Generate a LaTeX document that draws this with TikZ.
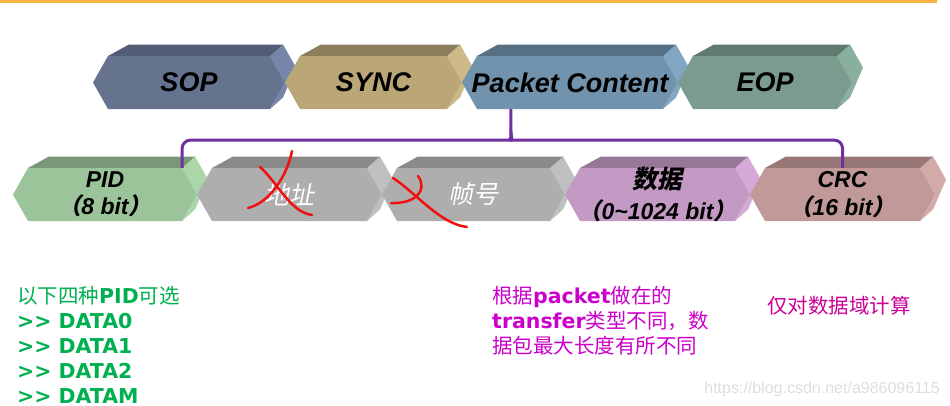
\documentclass[tikz,border=0pt]{standalone}
\usepackage{fontspec}
\setmainfont{Liberation Sans}
\newfontfamily\cjk{Noto Sans CJK SC}
\newfontfamily\cjkit[FakeSlant=0.2]{Noto Sans CJK SC}
\newfontfamily\dvs{DejaVu Sans}
\usetikzlibrary{calc}

\definecolor{sopF}{HTML}{65738F}\definecolor{sopT}{HTML}{525C76}\definecolor{sopS}{HTML}{7686AA}
\definecolor{synF}{HTML}{BAA677}\definecolor{synT}{HTML}{8C7E5C}\definecolor{synS}{HTML}{CDB987}
\definecolor{pcF}{HTML}{7193AD}\definecolor{pcT}{HTML}{567185}\definecolor{pcS}{HTML}{80A6C4}
\definecolor{eopF}{HTML}{7A9B8D}\definecolor{eopT}{HTML}{5F7A6E}\definecolor{eopS}{HTML}{89AF9E}
\definecolor{pidF}{HTML}{9BC49A}\definecolor{pidT}{HTML}{789878}\definecolor{pidS}{HTML}{AAD6A8}
\definecolor{gryF}{HTML}{AEAEAE}\definecolor{gryT}{HTML}{8A8A8A}\definecolor{gryS}{HTML}{C0C0C0}
\definecolor{datF}{HTML}{C29AC4}\definecolor{datT}{HTML}{987898}\definecolor{datS}{HTML}{D6AAD8}
\definecolor{crcF}{HTML}{C19998}\definecolor{crcT}{HTML}{987877}\definecolor{crcS}{HTML}{D4AAA8}
\definecolor{topline}{HTML}{F7B444}
\definecolor{brc}{HTML}{7030A0}
\definecolor{grn}{HTML}{00B050}
\definecolor{mag}{HTML}{CC00CC}
\definecolor{mag2}{HTML}{CC0099}
\definecolor{redmark}{HTML}{F01010}

\tikzset{
  blklabel/.style={inner sep=0pt, minimum height=53, align=center, text=black},
  toplabel/.style={font=\fontsize{27}{27}\selectfont\bfseries\itshape},
  botlabel/.style={font=\fontsize{23}{26}\selectfont\bfseries\itshape},
  bracestyle/.style={draw=brc, line width=3pt, rounded corners=8, line join=round},
  redx/.style={draw=redmark, line width=2.5pt, line cap=round},
  grntxt/.style={anchor=base west, inner sep=0pt, text=grn, font=\fontsize{20.5}{25}\selectfont},
  magtxt/.style={anchor=base west, inner sep=0pt, text=mag, font=\fontsize{20.5}{25}\selectfont},
}

% #1 name, #2 x0 (left tip), #3 x1 (right tip), #4 yc, #5 front, #6 top, #7 side, #8 style, #9 text
\newcommand\blk[9]{%
  \fill[#7] ({#3-15},{#4-26.5}) -- ({#3-2},{#4-38}) -- ({#3+11},{#4-15}) -- ({#3-2},{#4+15}) -- ({#3-15},{#4+26.5}) -- (#3,#4) -- cycle;
  \fill[#6] ({#2+15},{#4-26.5}) -- ({#2+36},{#4-38}) -- ({#3-2},{#4-38}) -- ({#3-15},{#4-26.5}) -- cycle;
  \fill[#5] (#2,#4) -- ({#2+15},{#4-26.5}) -- ({#3-15},{#4-26.5}) -- (#3,#4) -- ({#3-15},{#4+26.5}) -- ({#2+15},{#4+26.5}) -- cycle;
  \node[blklabel, #8, minimum width={#3-#2-30}] (#1) at ({(#2+#3)/2},#4) {#9};%
}

\begin{document}
\begin{tikzpicture}[x=1pt,y=-1pt]
\useasboundingbox (0,0) rectangle (950,405);
\fill[white] (0,0) rectangle (950,405);
\fill[topline] (0,0) rectangle (937,2.7);

% top row
\blk{sop}{93}{285}{82.5}{sopF}{sopT}{sopS}{toplabel}{SOP}
\blk{sync}{285}{462}{82.5}{synF}{synT}{synS}{toplabel}{SYNC}
\blk{pc}{462}{678}{82.5}{pcF}{pcT}{pcS}{toplabel}{Packet Content}
\blk{eop}{678}{852}{82.5}{eopF}{eopT}{eopS}{toplabel}{EOP}

% bottom row
\blk{pid}{13}{197}{194.5}{pidF}{pidT}{pidS}{botlabel}{PID\\[1pt]{\cjkit（}8 bit{\cjkit）}}
\blk{addr}{197}{382}{194.5}{gryF}{gryT}{gryS}{text=white}{{\cjkit\fontsize{25}{25}\selectfont 地址}}
\blk{frm}{382}{565}{194.5}{gryF}{gryT}{gryS}{text=white}{{\cjkit\fontsize{25}{25}\selectfont 帧号}}
\blk{dat}{565}{750}{194.5}{datF}{datT}{datS}{botlabel}{{\cjkit\fontsize{25}{25}\selectfont 数据}\\[5pt]{\cjkit（}0\textasciitilde1024 bit{\cjkit）}}
\blk{crc}{750}{935}{194.5}{crcF}{crcT}{crcS}{botlabel}{CRC\\[2pt]{\cjkit（}16 bit{\cjkit）}}

% brace from Packet Content to PID ... CRC
\coordinate (bm) at ($(pc.south west)!0.2!(pc.south east)$);
\draw[bracestyle] (bm) -- ($(bm)+(0,22)$) to[out=-90,in=0] ($(bm)+(-7,31)$) -| (pid.north east);
\draw[bracestyle] ($(bm)+(0,22)$) to[out=-90,in=180] ($(bm)+(7,31)$) -| (crc.north);

% red cross marks
\draw[redx] (292,151) .. controls (288,172) and (272,202) .. (248,208);
\draw[redx] (260,167) .. controls (278,183) and (290,212) .. (312,215);
\draw[redx] (393,178) .. controls (415,192) and (440,224) .. (467,227);
\draw[redx] (418,176) .. controls (428,190) and (416,204) .. (391,203);

% green notes
\node[grntxt] (g1) at (17,303) {{\cjk 以下四种}{\dvs\bfseries PID}{\cjk 可选}};
\node[grntxt] (g2) at (17,328) {\dvs\bfseries >> DATA0};
\node[grntxt] (g3) at (17,353) {\dvs\bfseries >> DATA1};
\node[grntxt] (g4) at (17,378) {\dvs\bfseries >> DATA2};
\node[grntxt] (g5) at (17,403) {\dvs\bfseries >> DATAM};

% magenta notes
\node[magtxt] (m1) at (492,303) {{\cjk 根据}{\dvs\bfseries packet}{\cjk 做在的}};
\node[magtxt] (m2) at (492,328) {{\dvs\bfseries transfer}{\cjk 类型不同，数}};
\node[magtxt] (m3) at (492,353) {{\cjk 据包最大长度有所不同}};
\node[magtxt, text=mag2] (m4) at (767,313) {{\cjk 仅对数据域计算}};

% watermark
\node[anchor=base east, inner sep=0pt, text=black!13, font=\fontsize{16}{16}\selectfont] (wm) at (940,393) {https://blog.csdn.net/a986096115};
\end{tikzpicture}
\end{document}
